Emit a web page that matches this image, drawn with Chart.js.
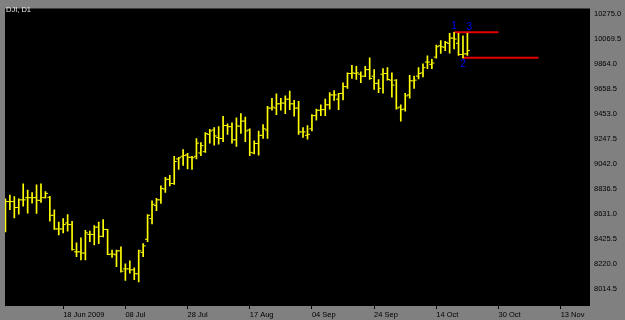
<!DOCTYPE html>
<html>
<head>
<meta charset="utf-8">
<script src="https://cdn.jsdelivr.net/npm/chart.js@4.4.1/dist/chart.umd.min.js"></script>
<style>
  html, body { margin: 0; padding: 0; background: #808080; }
  canvas { display: block; }
</style>
</head>
<body>
<canvas id="ohlc" width="625" height="320"></canvas>
<script>
// DJI daily bars (bar index 0 = first visible bar)
const opens = [8519, 8730, 8730, 8681, 8744, 8762, 8762, 8762, 8740, 8762,
  8765, 8617, 8505, 8505, 8554, 8541, 8317, 8317, 8307, 8460,
  8460, 8520, 8444, 8501, 8299, 8293, 8325, 8177, 8177, 8169,
  8137, 8312, 8420, 8590, 8697, 8744, 8833, 8913, 8878, 9080,
  9102, 9113, 9094, 9102, 9129, 9140, 9282, 9318, 9256, 9248,
  9355, 9345, 9237, 9350, 9391, 9318, 9129, 9207, 9274, 9318,
  9498, 9498, 9533, 9539, 9571, 9533, 9498, 9302, 9274, 9328,
  9436, 9480, 9485, 9525, 9606, 9571, 9618, 9674, 9782, 9782,
  9776, 9760, 9814, 9760, 9701, 9776, 9782, 9727, 9727, 9506,
  9490, 9606, 9722, 9760, 9787, 9876, 9857, 9917, 10010, 9998,
  10030, 10073, 10030, 9938, 9943];
const highs = [8752, 8784, 8770, 8752, 8875, 8825, 8803, 8867, 8875, 8811,
  8773, 8663, 8562, 8590, 8622, 8568, 8390, 8433, 8493, 8487,
  8533, 8562, 8582, 8501, 8331, 8331, 8358, 8218, 8244, 8185,
  8331, 8384, 8622, 8736, 8757, 8859, 8930, 8946, 9102, 9094,
  9156, 9126, 9102, 9248, 9215, 9296, 9323, 9337, 9345, 9431,
  9369, 9377, 9417, 9452, 9425, 9328, 9229, 9310, 9363, 9512,
  9579, 9614, 9579, 9598, 9638, 9561, 9553, 9337, 9355, 9444,
  9490, 9525, 9571, 9625, 9642, 9620, 9706, 9787, 9849, 9841,
  9795, 9841, 9911, 9814, 9733, 9822, 9830, 9787, 9733, 9525,
  9620, 9768, 9760, 9830, 9862, 9927, 9899, 10016, 10053, 10046,
  10111, 10121, 10111, 10091, 10111];
const lows = [8481, 8663, 8595, 8627, 8692, 8635, 8716, 8633, 8722, 8757,
  8568, 8501, 8455, 8473, 8487, 8331, 8277, 8250, 8250, 8401,
  8374, 8384, 8439, 8293, 8271, 8196, 8150, 8083, 8142, 8088,
  8069, 8277, 8401, 8546, 8655, 8714, 8805, 8859, 8870, 8994,
  9027, 8999, 8994, 9080, 9108, 9134, 9210, 9193, 9201, 9221,
  9282, 9210, 9183, 9290, 9221, 9108, 9121, 9112, 9248, 9248,
  9480, 9444, 9480, 9452, 9485, 9431, 9282, 9256, 9242, 9310,
  9399, 9436, 9436, 9490, 9561, 9485, 9566, 9660, 9741, 9733,
  9706, 9755, 9733, 9652, 9625, 9620, 9727, 9587, 9490, 9391,
  9472, 9579, 9660, 9737, 9753, 9822, 9822, 9907, 9947, 9970,
  9949, 9984, 9930, 9911, 9930];
const closes = [8730, 8730, 8681, 8744, 8744, 8762, 8762, 8740, 8762, 8797,
  8617, 8505, 8505, 8541, 8541, 8335, 8317, 8307, 8473, 8460,
  8520, 8444, 8501, 8295, 8299, 8325, 8158, 8177, 8169, 8137,
  8325, 8366, 8617, 8708, 8744, 8837, 8913, 8878, 9059, 9090,
  9108, 9094, 9090, 9210, 9189, 9288, 9310, 9269, 9248, 9355,
  9345, 9237, 9350, 9391, 9310, 9134, 9207, 9274, 9328, 9498,
  9506, 9533, 9539, 9571, 9533, 9498, 9302, 9302, 9282, 9436,
  9480, 9485, 9525, 9606, 9606, 9618, 9674, 9782, 9787, 9787,
  9760, 9814, 9741, 9701, 9660, 9782, 9733, 9687, 9498, 9485,
  9598, 9722, 9727, 9782, 9830, 9876, 9868, 10002, 10002, 10038,
  10073, 10065, 9938, 9943, 9970];

// time axis labels and the bar slot each one sits on
const dateLabels = ['18 Jun 2009', '08 Jul', '28 Jul', '17 Aug', '04 Sep', '24 Sep', '14 Oct', '30 Oct', '13 Nov'];
const dateSlots = [13, 27, 41, 55, 69, 83, 97, 111, 125];

// price axis labels
const priceTicks = [8014.5, 8220.0, 8425.5, 8631.0, 8836.5, 9042.0, 9247.5, 9453.0, 9658.5, 9864.0, 10069.5, 10275.0];

// numbered swing points (1 = high, 2 = low, 3 = last) and where the two levels end
const swingNames = ['1', '2', '3'];
const swingBars = [101, 103, 104];
const levelEnds = [111, 120];

const BAR_COLOR = '#ffff00';
const LEVEL_COLOR = '#e60000';
const FONT = 'Liberation Sans';

const hiLo = highs.map((h, i) => ({ x: i, y: [lows[i], h] }));
const openTicks = opens.map((o, i) => ({ x: i - 0.35, y: o }));
const closeTicks = closes.map((c, i) => ({ x: i + 0.35, y: c }));
const highLevel = highs[swingBars[0]];
const lowLevel = lows[swingBars[1]];

// gray frame + black plot area, like the terminal window
const backdrop = {
  id: 'backdrop',
  beforeDraw(chart) {
    const { ctx, chartArea: a } = chart;
    ctx.save();
    ctx.fillStyle = '#808080';
    ctx.fillRect(0, 0, chart.width, chart.height);
    ctx.fillStyle = '#000000';
    ctx.fillRect(a.left, a.top, a.right - a.left, a.bottom - a.top);
    ctx.restore();
  },
  afterDatasetsDraw(chart) {
    const { ctx, scales: { x, y } } = chart;
    ctx.save();
    ctx.fillStyle = '#e8e8e8';
    ctx.font = '7.5px ' + FONT;
    ctx.textBaseline = 'top';
    ctx.fillText('DJI, D1', 6, 6);

    ctx.fillStyle = '#0000ff';
    ctx.font = '10px ' + FONT;
    ctx.textAlign = 'center';
    // 1 above the high, 2 below the low, 3 above the last bar
    ctx.textBaseline = 'bottom';
    ctx.fillText(swingNames[0], x.getPixelForValue(swingBars[0]), y.getPixelForValue(highs[swingBars[0]]) - 1);
    ctx.fillText(swingNames[2], x.getPixelForValue(swingBars[2]) + 2, y.getPixelForValue(highs[swingBars[2]]) - 1);
    ctx.textBaseline = 'top';
    ctx.fillText(swingNames[1], x.getPixelForValue(swingBars[1]), y.getPixelForValue(lows[swingBars[1]]) + 1);
    ctx.restore();
  }
};

new Chart(document.getElementById('ohlc'), {
  type: 'bar',
  data: {
    datasets: [
      { type: 'bar', data: hiLo, backgroundColor: BAR_COLOR, barThickness: 1, borderWidth: 0 },
      { type: 'scatter', data: openTicks, pointStyle: 'line', pointRadius: 1, borderColor: BAR_COLOR, pointBorderWidth: 1 },
      { type: 'scatter', data: closeTicks, pointStyle: 'line', pointRadius: 1, borderColor: BAR_COLOR, pointBorderWidth: 1 },
      { type: 'line', data: [{ x: swingBars[0], y: highLevel }, { x: levelEnds[0], y: highLevel }],
        borderColor: LEVEL_COLOR, borderWidth: 2, pointRadius: 0 },
      { type: 'line', data: [{ x: swingBars[1], y: lowLevel }, { x: levelEnds[1], y: lowLevel }],
        borderColor: LEVEL_COLOR, borderWidth: 2, pointRadius: 0 }
    ]
  },
  plugins: [backdrop],
  options: {
    responsive: false,
    animation: false,
    devicePixelRatio: 1,
    events: [],
    layout: { padding: { left: 4, top: 4, right: 0, bottom: 0 } },
    plugins: { legend: { display: false }, tooltip: { enabled: false } },
    scales: {
      x: {
        type: 'linear',
        min: -0.1,
        max: 131.6,
        offset: false,
        border: { display: false },
        grid: { offset: false, drawOnChartArea: false, drawTicks: true, tickLength: 3, color: '#000000' },
        afterBuildTicks: (s) => { s.ticks = dateSlots.map(v => ({ value: v })); },
        afterFit: (s) => { s.height = 14; },
        ticks: {
          autoSkip: false,
          maxRotation: 0,
          align: 'start',
          padding: 1,
          color: '#000000',
          font: { family: FONT, size: 7.5 },
          callback: (v) => dateLabels[dateSlots.indexOf(v)]
        }
      },
      y: {
        type: 'linear',
        position: 'right',
        min: 7872,
        max: 10316,
        border: { display: false },
        grid: { display: false, drawTicks: false },
        afterBuildTicks: (s) => { s.ticks = priceTicks.map(v => ({ value: v })); },
        afterFit: (s) => { s.width = 35; },
        ticks: {
          padding: 4,
          color: '#000000',
          font: { family: FONT, size: 7.5 },
          callback: (v) => v.toFixed(1)
        }
      }
    }
  }
});
</script>
</body>
</html>
